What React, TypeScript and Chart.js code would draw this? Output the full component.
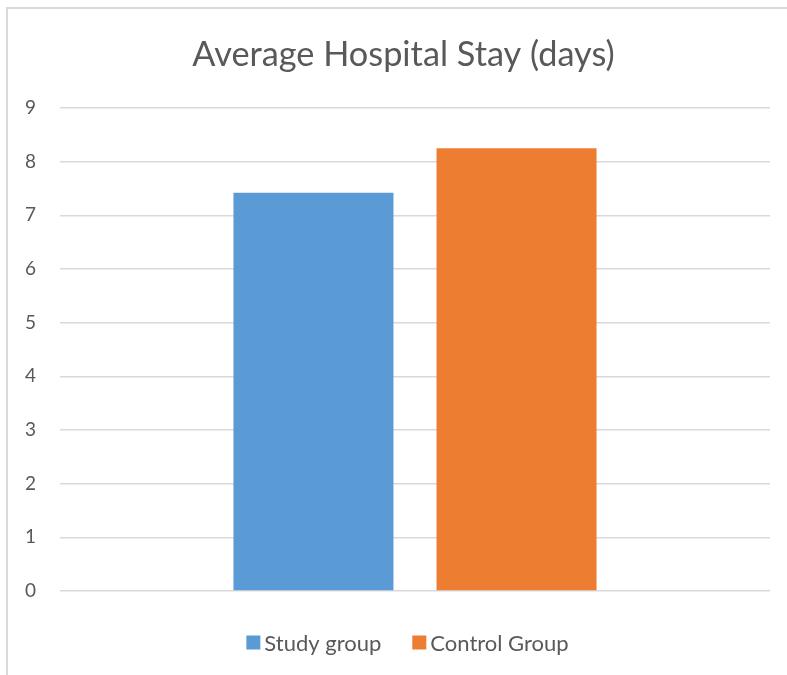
import React, { useEffect, useRef } from "react";
import { Chart, registerables } from "chart.js";

Chart.register(...registerables);

const categories = [""];
const seriesNames = ["Study group", "Control Group"];
const studyValues = [7.42];
const controlValues = [8.25];
const yTicks = [0, 1, 2, 3, 4, 5, 6, 7, 8, 9];
const titleText = "Average Hospital Stay (days)";

const framePlugin = {
  id: "frame",
  beforeDraw(chart: any) {
    const ctx = chart.ctx;
    ctx.save();
    ctx.fillStyle = "#ffffff";
    ctx.fillRect(0, 0, chart.width, chart.height);
    ctx.fillStyle = "#d9d9d9";
    ctx.fillRect(6, 7, 2, chart.height);
    ctx.fillRect(6, 7, chart.width, 2);
    ctx.restore();
  },
};

const customTitle = {
  id: "customTitle",
  afterDraw(chart: any) {
    const ctx = chart.ctx;
    ctx.save();
    ctx.font = "400 34.3px Lato";
    ctx.fillStyle = "#595959";
    ctx.textAlign = "center";
    ctx.textBaseline = "middle";
    ctx.fillText(titleText, 403.5, 55);
    ctx.restore();
  },
};

const customLegend = {
  id: "customLegend",
  afterDraw(chart: any) {
    const ctx = chart.ctx;
    const font = "22px Lato";
    const box = 14;
    const gap = 4;
    const itemGap = 31;
    const centerX = 407.5;
    const centerY = 642.5;
    ctx.save();
    ctx.font = font;
    const items = chart.data.datasets.map((d: any) => ({
      text: d.label,
      color: d.backgroundColor,
      w: box + gap + ctx.measureText(d.label).width,
    }));
    const total = items.reduce((a: number, it: any) => a + it.w, 0) + itemGap * (items.length - 1);
    let x = centerX - total / 2;
    ctx.textBaseline = "middle";
    ctx.textAlign = "left";
    for (const it of items) {
      ctx.fillStyle = it.color;
      ctx.fillRect(x, centerY - box / 2, box, box);
      ctx.fillStyle = "#595959";
      ctx.fillText(it.text, x + box + gap, centerY + 1);
      x += it.w + itemGap;
    }
    ctx.restore();
  },
};

export default function App() {
  const ref = useRef<HTMLCanvasElement>(null);
  useEffect(() => {
    const chart = new Chart(ref.current!, {
      type: "bar",
      data: {
        labels: categories,
        datasets: [
          { label: seriesNames[0], data: studyValues, backgroundColor: "#5B9BD5", borderWidth: 0 },
          { label: seriesNames[1], data: controlValues, backgroundColor: "#ED7D31", borderWidth: 0 },
        ],
      },
      options: {
        responsive: false,
        animation: false,
        layout: { padding: { left: 0, right: 17, top: 108, bottom: 54 } },
        datasets: { bar: { categoryPercentage: 0.572, barPercentage: 0.788 } },
        plugins: {
          tooltip: { enabled: false },
          title: { display: false, text: titleText },
          legend: { display: false },
        },
        scales: {
          x: {
            grid: { display: false },
            border: { display: false },
            ticks: { display: false },
            afterFit: (s: any) => { s.height = 30; },
          },
          y: {
            min: 0,
            max: 9,
            afterBuildTicks: (s: any) => { s.ticks = yTicks.map((v) => ({ value: v })); },
            grid: { color: "#d9d9d9", lineWidth: 1.5, drawTicks: false },
            border: { display: false },
            ticks: {
              color: "#595959",
              font: { family: "Lato", size: 19 },
              padding: 24,
            },
            afterFit: (s: any) => { s.width = 60; },
          },
        },
      },
      plugins: [framePlugin, customTitle, customLegend],
    });
    return () => chart.destroy();
  }, []);
  return (
    <div style={{ position: "fixed", left: 0, top: 0 }}>
      <canvas ref={ref} width={787} height={675} style={{ display: "block" }} />
    </div>
  );
}
